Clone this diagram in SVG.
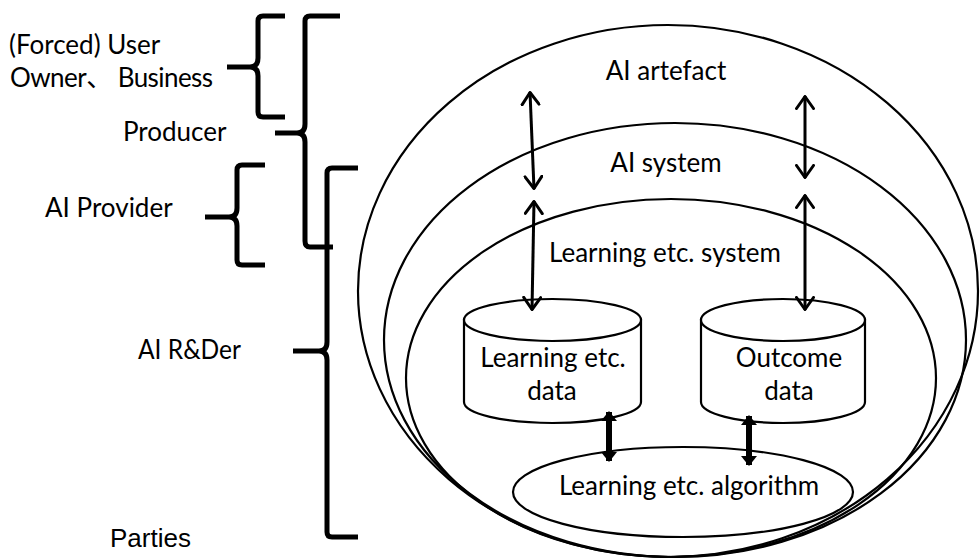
<svg xmlns="http://www.w3.org/2000/svg" width="980" height="559" viewBox="0 0 980 559">
  <style>
    .lbl { font-family: Lato, "Noto Sans", "Noto Sans CJK JP", sans-serif; font-size: 26px; fill: #000; }
    .mid { text-anchor: middle; }
    .ring { fill: none; stroke: #000; stroke-width: 2.2; }
    .box { fill: #fff; stroke: #000; stroke-width: 2.2; }
    .brace { fill: none; stroke: #000; stroke-width: 5; stroke-linecap: butt; stroke-linejoin: round; }
    .thin { stroke: #000; stroke-width: 3; fill: none; }
    .thick { stroke: #000; stroke-width: 6; fill: none; }
  </style>
  <defs>
    <marker id="openHead" viewBox="0 0 15 20" refX="14" refY="10" markerWidth="15" markerHeight="20" markerUnits="userSpaceOnUse" orient="auto-start-reverse">
      <path d="M1.5,1.5 L13.5,10 L1.5,18.5" fill="none" stroke="#000" stroke-width="3" stroke-linecap="round" stroke-linejoin="round"/>
    </marker>
    <marker id="solidHead" viewBox="0 0 10 16" refX="9" refY="8" markerWidth="10" markerHeight="16" markerUnits="userSpaceOnUse" orient="auto-start-reverse">
      <path d="M0,0 L10,8 L0,16 Z" fill="#000"/>
    </marker>
  </defs>

  <rect width="980" height="559" fill="#fff"/>

  <!-- party labels -->
  <g id="parties">
    <text class="lbl" x="9" y="54">(Forced) User</text>
    <text class="lbl" x="10" y="87" textLength="203" lengthAdjust="spacing">Owner、 Business</text>
    <text class="lbl" x="123" y="141">Producer</text>
    <text class="lbl" x="45" y="217">AI Provider</text>
    <text class="lbl" x="138" y="359" textLength="103" lengthAdjust="spacingAndGlyphs">AI R&amp;Der</text>
    <text x="110" y="547" style="font-family:'Liberation Sans', Arial, sans-serif; font-size:26px">Parties</text>
  </g>

  <!-- curly braces grouping the parties -->
  <g id="braces">
    <path class="brace" d="M285,16 H263 Q258,16 258,21 V58 Q258,67 250,67 H227 M250,67 Q258,67 258,76 V112 Q258,117 263,117 H285"/>
    <path class="brace" d="M340,16 H310 Q305,16 305,21 V124 Q305,133 297,133 H275 M297,133 Q305,133 305,142 V241 Q305,247 310,247 H333"/>
    <path class="brace" d="M265,165 H242 Q237,165 237,170 V208 Q237,217 229,217 H205 M229,217 Q237,217 237,226 V260 Q237,265 242,265 H265"/>
    <path class="brace" d="M358,168 H332 Q327,168 327,173 V342 Q327,351 319,351 H293 M319,351 Q327,351 327,360 V532 Q327,537 332,537 H358"/>
  </g>

  <!-- nested scopes -->
  <g id="ai-artefact">
    <ellipse class="ring" cx="668" cy="291" rx="310" ry="266"/>
    <text class="lbl mid" x="666" y="80">AI artefact</text>
  </g>
  <g id="ai-system">
    <ellipse class="ring" cx="675" cy="340" rx="291" ry="217"/>
    <text class="lbl mid" x="666" y="172">AI system</text>
  </g>
  <g id="learning-system">
    <ellipse class="ring" cx="671" cy="378" rx="265" ry="179"/>
    <text class="lbl mid" x="665" y="262">Learning etc. system</text>
  </g>

  <g id="learning-data">
    <path class="box" d="M464,320 V402 A88.5,21 0 0 0 641,402 V320 Z"/>
    <ellipse class="box" cx="552.5" cy="320" rx="88.5" ry="21"/>
    <text class="lbl mid" x="553" y="367">Learning etc.</text>
    <text class="lbl mid" x="552" y="400">data</text>
  </g>
  <g id="outcome-data">
    <path class="box" d="M701,320 V402 A82,21 0 0 0 865,402 V320 Z"/>
    <ellipse class="box" cx="783" cy="320" rx="82" ry="21"/>
    <text class="lbl mid" x="789" y="367">Outcome</text>
    <text class="lbl mid" x="789" y="400">data</text>
  </g>
  <g id="learning-algorithm">
    <ellipse class="box" cx="683" cy="492" rx="170" ry="45"/>
    <text class="lbl mid" x="689" y="495">Learning etc. algorithm</text>
  </g>

  <!-- connectors -->
  <g id="connectors">
    <line class="thin" x1="530" y1="92" x2="534" y2="189" marker-start="url(#openHead)" marker-end="url(#openHead)"/>
    <line class="thin" x1="805" y1="96" x2="805" y2="178" marker-start="url(#openHead)" marker-end="url(#openHead)"/>
    <line class="thin" x1="534" y1="201" x2="532" y2="310" marker-start="url(#openHead)" marker-end="url(#openHead)"/>
    <line class="thin" x1="805" y1="195" x2="805" y2="310" marker-start="url(#openHead)" marker-end="url(#openHead)"/>
    <line class="thick" x1="609" y1="412" x2="609" y2="461" marker-start="url(#solidHead)" marker-end="url(#solidHead)"/>
    <line class="thick" x1="749" y1="416" x2="749" y2="465" marker-start="url(#solidHead)" marker-end="url(#solidHead)"/>
  </g>
</svg>
